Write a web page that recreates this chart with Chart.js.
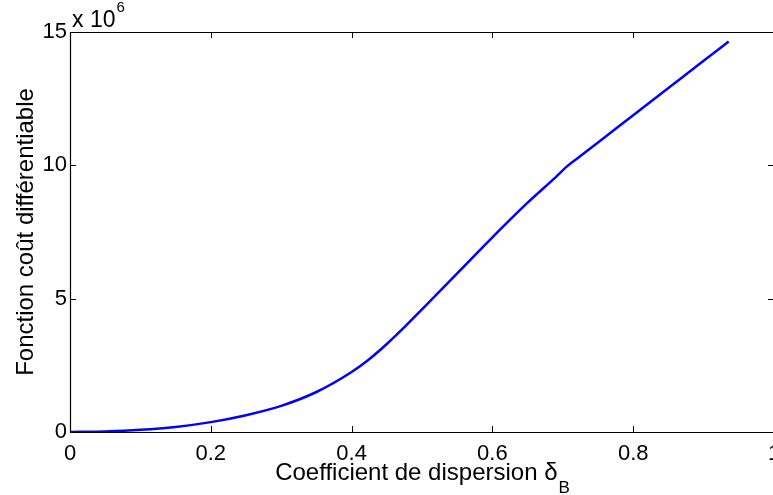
<!DOCTYPE html>
<html>
<head>
<meta charset="utf-8">
<script src="https://cdn.jsdelivr.net/npm/chart.js@4"></script>
<style>
    html, body { margin: 0; padding: 0; background: #fff; overflow: hidden; }
    canvas { display: block; }
</style>
</head>
<body>
<canvas id="costChart" width="780" height="495"></canvas>
<script>
// values (y in units of 1e6)
const deltaB = [0, 0.05, 0.1, 0.15, 0.2, 0.25, 0.3, 0.35, 0.4, 0.425, 0.45, 0.475, 0.5, 0.55, 0.6, 0.65, 0.69, 0.7055, 0.72, 0.75, 0.8, 0.85, 0.9, 0.9356];
const costMillions = [0, 0.02, 0.08, 0.19, 0.37, 0.63, 0.98, 1.5, 2.25, 2.73, 3.3, 3.93, 4.6, 5.95, 7.3, 8.6, 9.56, 9.95, 10.25, 10.86, 11.88, 12.9, 13.92, 14.64];
const xTicks = [0, 0.2, 0.4, 0.6, 0.8, 1];
const yTicks = [0, 5, 10, 15];
const yExponent = 6;

const fontFamily = '"Liberation Sans", Arial, Helvetica, sans-serif';
const points = deltaB.map((x, i) => ({ x: x, y: costMillions[i] * Math.pow(10, yExponent) }));

// box, inward ticks, axis titles and the exponent label (MATLAB look)
const matlabAxes = {
    id: 'matlabAxes',
    afterDraw(chart) {
        const c = chart.ctx;
        const a = chart.chartArea;
        const xs = chart.scales.x;
        const ys = chart.scales.y;
        const tl = 6;
        const L = Math.round(a.left), R = Math.round(a.right), T = Math.round(a.top), B = Math.round(a.bottom);

        c.save();
        c.strokeStyle = '#000';
        c.lineWidth = 1.2;
        c.beginPath();
        c.moveTo(R + 0.5, T + 0.5);
        c.lineTo(L + 0.5, T + 0.5);
        c.lineTo(L + 0.5, B + 0.5);
        c.lineTo(R + 0.5, B + 0.5);
        c.stroke();

        c.lineWidth = 1;
        c.beginPath();
        xTicks.forEach(v => {
            const px = Math.round(xs.getPixelForValue(v)) + 0.5;
            c.moveTo(px, B); c.lineTo(px, B - tl);
            c.moveTo(px, T); c.lineTo(px, T + tl);
        });
        yTicks.forEach(v => {
            const py = Math.round(ys.getPixelForValue(v * Math.pow(10, yExponent))) + 0.5;
            c.moveTo(L, py); c.lineTo(L + tl, py);
            c.moveTo(R, py); c.lineTo(R - tl, py);
        });
        c.stroke();

        c.fillStyle = '#000';
        c.textBaseline = 'alphabetic';

        // exponent label
        c.textAlign = 'left';
        c.font = '23px ' + fontFamily;
        c.fillText('x 10', L + 2, T - 5);
        const w10 = c.measureText('x 10').width;
        c.font = '15px ' + fontFamily;
        c.fillText(String(yExponent), L + 2 + w10 + 1, T - 20);

        // x title with subscript
        c.font = '24px ' + fontFamily;
        const main = 'Coefficient de dispersion δ';
        const wMain = c.measureText(main).width;
        c.font = '17px ' + fontFamily;
        const wSub = c.measureText('B').width;
        const x0 = (a.left + a.right) / 2 - (wMain + wSub) / 2;
        c.font = '24px ' + fontFamily;
        c.fillText(main, x0, 480);
        c.font = '17px ' + fontFamily;
        c.fillText('B', x0 + wMain + 1, 493);

        // y title
        c.font = '24px ' + fontFamily;
        c.translate(33, (a.top + a.bottom) / 2);
        c.rotate(-Math.PI / 2);
        c.textAlign = 'center';
        c.fillText('Fonction coût différentiable', 0, 0);
        c.restore();
    }
};

new Chart(document.getElementById('costChart').getContext('2d'), {
    type: 'line',
    data: {
        datasets: [{
            data: points,
            borderColor: '#0000ff',
            borderWidth: 2.5,
            pointRadius: 0,
            fill: false,
            cubicInterpolationMode: 'monotone'
        }]
    },
    options: {
        responsive: false,
        animation: false,
        layout: { padding: { top: 32, right: 6, left: 0, bottom: 0 } },
        plugins: {
            legend: { display: false },
            tooltip: { enabled: false }
        },
        scales: {
            x: {
                type: 'linear',
                min: 0,
                max: 1,
                border: { display: false },
                grid: { display: false, drawTicks: false },
                afterBuildTicks: s => { s.ticks = xTicks.map(v => ({ value: v })); },
                afterFit: s => { s.height = 63; s.paddingLeft = 0; s.paddingRight = 0; },
                ticks: {
                    color: '#000',
                    padding: 9,
                    maxRotation: 0,
                    font: { family: fontFamily, size: 22 },
                    callback: v => String(v)
                }
            },
            y: {
                type: 'linear',
                min: 0,
                max: 15e6,
                border: { display: false },
                grid: { display: false, drawTicks: false },
                afterBuildTicks: s => { s.ticks = yTicks.map(v => ({ value: v * Math.pow(10, yExponent) })); },
                afterFit: s => { s.width = 70; s.paddingTop = 0; s.paddingBottom = 0; },
                ticks: {
                    color: '#000',
                    padding: 3,
                    font: { family: fontFamily, size: 22 },
                    callback: v => String(Math.round(v / Math.pow(10, yExponent)))
                }
            }
        }
    },
    plugins: [matlabAxes]
});
</script>
</body>
</html>
